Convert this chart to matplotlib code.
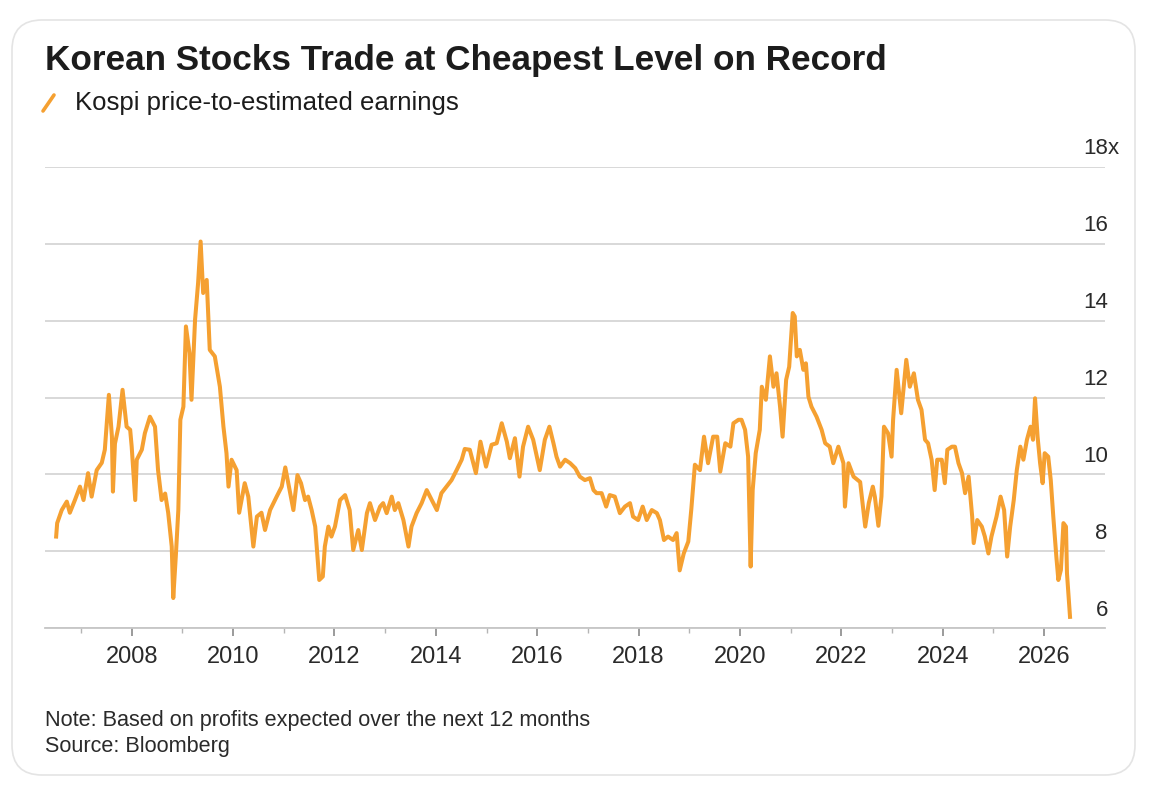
import matplotlib.pyplot as plt
from matplotlib.patches import FancyBboxPatch
from matplotlib.lines import Line2D

plt.rcParams['font.family'] = ['Liberation Sans', 'DejaVu Sans']

# Kospi price-to-estimated earnings (decimal years)
years = [
    2006.51, 2006.53, 2006.62, 2006.72, 2006.78, 2006.88, 2006.98, 2007.05, 2007.14, 2007.21,
    2007.31, 2007.41, 2007.47, 2007.55, 2007.61, 2007.63, 2007.67, 2007.74, 2007.82, 2007.90,
    2007.97, 2008.00, 2008.07, 2008.10, 2008.20, 2008.26, 2008.36, 2008.46, 2008.52, 2008.59,
    2008.66, 2008.72, 2008.79, 2008.82, 2008.87, 2008.92, 2008.96, 2009.02, 2009.07, 2009.14,
    2009.18, 2009.25, 2009.31, 2009.36, 2009.41, 2009.48, 2009.54, 2009.64, 2009.74, 2009.81,
    2009.87, 2009.91, 2009.97, 2010.07, 2010.12, 2010.23, 2010.30, 2010.40, 2010.47, 2010.56,
    2010.63, 2010.73, 2010.86, 2010.96, 2011.03, 2011.12, 2011.19, 2011.27, 2011.34, 2011.42,
    2011.48, 2011.55, 2011.62, 2011.66, 2011.70, 2011.77, 2011.81, 2011.88, 2011.94, 2012.01,
    2012.11, 2012.21, 2012.30, 2012.37, 2012.47, 2012.54, 2012.64, 2012.70, 2012.80, 2012.90,
    2012.96, 2013.03, 2013.13, 2013.19, 2013.26, 2013.36, 2013.46, 2013.52, 2013.62, 2013.72,
    2013.82, 2013.92, 2014.02, 2014.11, 2014.21, 2014.31, 2014.41, 2014.51, 2014.57, 2014.67,
    2014.79, 2014.88, 2014.99, 2015.10, 2015.20, 2015.30, 2015.40, 2015.46, 2015.56, 2015.65,
    2015.72, 2015.82, 2015.92, 2016.05, 2016.15, 2016.24, 2016.32, 2016.38, 2016.45, 2016.55,
    2016.65, 2016.75, 2016.84, 2016.94, 2017.04, 2017.11, 2017.17, 2017.27, 2017.36, 2017.43,
    2017.53, 2017.63, 2017.73, 2017.83, 2017.89, 2017.99, 2018.08, 2018.16, 2018.26, 2018.36,
    2018.42, 2018.50, 2018.58, 2018.68, 2018.75, 2018.81, 2018.89, 2018.98, 2019.04, 2019.11,
    2019.21, 2019.29, 2019.37, 2019.47, 2019.55, 2019.61, 2019.71, 2019.81, 2019.87, 2019.97,
    2020.03, 2020.10, 2020.16, 2020.21, 2020.25, 2020.31, 2020.39, 2020.43, 2020.51, 2020.59,
    2020.66, 2020.72, 2020.79, 2020.84, 2020.91, 2020.97, 2021.04, 2021.08, 2021.12, 2021.18,
    2021.25, 2021.30, 2021.35, 2021.41, 2021.51, 2021.61, 2021.68, 2021.77, 2021.84, 2021.94,
    2022.04, 2022.07, 2022.14, 2022.24, 2022.37, 2022.47, 2022.54, 2022.62, 2022.66, 2022.73,
    2022.79, 2022.84, 2022.92, 2022.99, 2023.02, 2023.09, 2023.18, 2023.28, 2023.35, 2023.43,
    2023.51, 2023.58, 2023.65, 2023.71, 2023.78, 2023.84, 2023.89, 2023.98, 2024.04, 2024.09,
    2024.18, 2024.24, 2024.31, 2024.38, 2024.44, 2024.51, 2024.58, 2024.61, 2024.68, 2024.77,
    2024.83, 2024.90, 2024.96, 2025.06, 2025.14, 2025.21, 2025.27, 2025.33, 2025.40, 2025.46,
    2025.53, 2025.59, 2025.66, 2025.73, 2025.78, 2025.82, 2025.87, 2025.92, 2025.97, 2026.01,
    2026.08, 2026.13, 2026.18, 2026.24, 2026.28, 2026.33, 2026.38, 2026.43, 2026.45, 2026.51,
]
pe = [
    8.38, 8.73, 9.07, 9.29, 9.00, 9.33, 9.68, 9.33, 10.03, 9.42,
    10.11, 10.30, 10.64, 12.07, 10.98, 9.55, 10.80, 11.24, 12.20, 11.24,
    11.16, 10.72, 9.33, 10.38, 10.64, 11.07, 11.50, 11.24, 10.11, 9.33,
    9.50, 9.00, 8.12, 6.78, 7.86, 9.07, 11.42, 11.76, 13.85, 13.16,
    11.94, 14.02, 14.98, 16.06, 14.72, 15.06, 13.24, 13.07, 12.28, 11.24,
    10.55, 9.68, 10.38, 10.11, 9.00, 9.77, 9.42, 8.12, 8.90, 9.00,
    8.55, 9.07, 9.42, 9.68, 10.18, 9.55, 9.07, 9.98, 9.77, 9.33,
    9.42, 9.07, 8.64, 7.94, 7.25, 7.34, 8.12, 8.64, 8.38, 8.64,
    9.33, 9.46, 9.07, 8.03, 8.55, 8.03, 8.99, 9.25, 8.81, 9.16,
    9.25, 8.99, 9.42, 9.07, 9.25, 8.81, 8.12, 8.64, 8.99, 9.25,
    9.59, 9.33, 9.07, 9.51, 9.68, 9.85, 10.11, 10.38, 10.66, 10.64,
    10.03, 10.85, 10.20, 10.77, 10.81, 11.33, 10.85, 10.42, 10.94, 9.94,
    10.72, 11.24, 10.90, 10.11, 10.90, 11.24, 10.81, 10.46, 10.20, 10.38,
    10.29, 10.16, 9.94, 9.85, 9.90, 9.59, 9.51, 9.51, 9.16, 9.46,
    9.42, 8.99, 9.16, 9.25, 8.90, 8.81, 9.16, 8.81, 9.07, 8.99,
    8.81, 8.29, 8.38, 8.29, 8.47, 7.50, 7.94, 8.25, 9.10, 10.25,
    10.11, 10.98, 10.29, 10.98, 10.98, 10.07, 10.81, 10.72, 11.33, 11.42,
    11.42, 11.16, 10.46, 7.60, 9.59, 10.55, 11.16, 12.28, 11.94, 13.07,
    12.28, 12.63, 11.76, 10.98, 12.46, 12.80, 14.20, 14.11, 13.07, 13.24,
    12.72, 12.89, 12.02, 11.76, 11.50, 11.16, 10.81, 10.72, 10.29, 10.72,
    10.29, 9.16, 10.29, 9.94, 9.80, 8.64, 9.25, 9.68, 9.42, 8.66,
    9.42, 11.24, 11.07, 10.46, 11.42, 12.72, 11.59, 12.98, 12.28, 12.63,
    11.94, 11.68, 10.90, 10.81, 10.38, 9.59, 10.38, 10.38, 9.77, 10.64,
    10.72, 10.72, 10.29, 10.03, 9.51, 9.94, 8.90, 8.21, 8.81, 8.64,
    8.38, 7.94, 8.38, 8.90, 9.42, 9.07, 7.86, 8.64, 9.33, 10.11,
    10.72, 10.38, 10.90, 11.24, 10.90, 11.98, 10.98, 10.29, 9.77, 10.55,
    10.46, 9.85, 8.90, 7.86, 7.25, 7.51, 8.73, 8.64, 7.42, 6.29,
]

x_major = list(range(2008, 2027, 2))
x_minor = list(range(2007, 2026, 2))
y_ticks = [6, 8, 10, 12, 14, 16, 18]
y_labels = ['6', '8', '10', '12', '14', '16', '18']

title = 'Korean Stocks Trade at Cheapest Level on Record'
subtitle = 'Kospi price-to-estimated earnings'
note = 'Note: Based on profits expected over the next 12 months'
source = 'Source: Bloomberg'

ORANGE = '#F5A031'
TEXT = '#1c1c1c'

fig = plt.figure(figsize=(11.54, 7.96), dpi=100)

# rounded card outline
card = FancyBboxPatch((0.12, 0.21), 11.23, 7.55, boxstyle='round,pad=0,rounding_size=0.3',
                      transform=fig.dpi_scale_trans, fc='white', ec='#e4e4e4', lw=1.2, zorder=-5)
fig.add_artist(card)

ax = fig.add_axes([45 / 1154, 168 / 796, 1060 / 1154, 461 / 796])
ax.patch.set_alpha(0)

ax.plot(years, pe, color=ORANGE, lw=2.9, solid_joinstyle='round', zorder=3)

ax.set_xlim(2006.29, 2027.2)
ax.set_ylim(6, 18)

# gridlines
ax.set_yticks(y_ticks)
ax.yaxis.grid(True, color='#d6d6d6', lw=1.3)
ax.tick_params(axis='y', length=0, labelleft=False, labelright=False)
for side in ['top', 'left', 'right']:
    ax.spines[side].set_visible(False)
ax.spines['bottom'].set_color('#c6c6c6')
ax.spines['bottom'].set_linewidth(1.3)

# x axis
ax.set_xticks(x_major)
ax.set_xticks(x_minor, minor=True)
ax.set_xticklabels([str(y) for y in x_major])
ax.tick_params(axis='x', which='major', length=6, width=1.2, color='#8a8a8a',
               labelsize=17, labelcolor='#2a2a2a', pad=7)
ax.tick_params(axis='x', which='minor', length=3.5, width=1.0, color='#b5b5b5')

# y labels sit above the gridlines at the right end
for v, lab in zip(y_ticks, y_labels):
    ax.annotate(lab, xy=(1, v), xycoords=('axes fraction', 'data'), xytext=(2, 9),
                textcoords='offset points', ha='right', va='baseline',
                fontsize=16, color='#2a2a2a', annotation_clip=False)
ax.annotate('x', xy=(1, y_ticks[-1]), xycoords=('axes fraction', 'data'), xytext=(2, 9),
            textcoords='offset points', ha='left', va='baseline',
            fontsize=16, color='#2a2a2a', annotation_clip=False)

# title and legend
fig.text(45 / 1154, 1 - 70 / 796, title, fontsize=25.3, fontweight='bold', color=TEXT,
         ha='left', va='baseline')
fig.add_artist(Line2D([43 / 1154, 54 / 1154], [1 - 111 / 796, 1 - 95 / 796],
                      color=ORANGE, lw=2.6, solid_capstyle='round'))
fig.text(75 / 1154, 1 - 110 / 796, subtitle, fontsize=18.5, color=TEXT,
         ha='left', va='baseline')

# notes
fig.text(45 / 1154, 1 - 726 / 796, note, fontsize=15.6, color='#2a2a2a', ha='left', va='baseline')
fig.text(45 / 1154, 1 - 752 / 796, source, fontsize=15.6, color='#2a2a2a', ha='left', va='baseline')

fig.savefig('out.png', dpi=100, facecolor='white')
